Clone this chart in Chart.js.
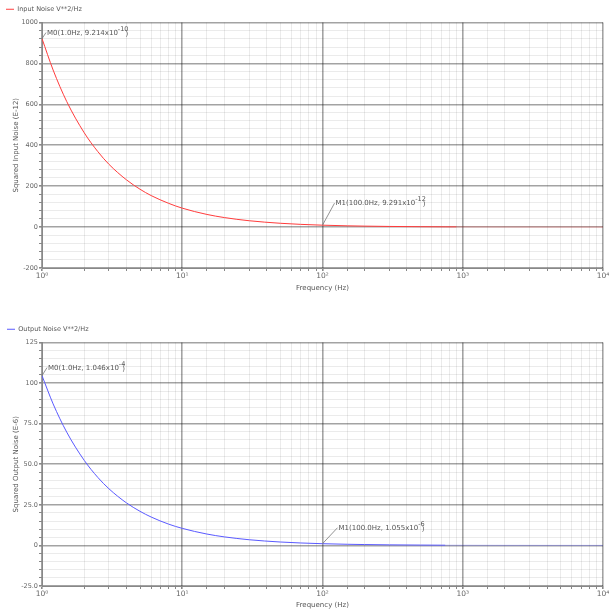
<!DOCTYPE html>
<html lang="en">
<head>
  <meta charset="UTF-8">
  <title>Noise Analysis</title>
  <script src="https://cdn.jsdelivr.net/npm/chart.js"></script>
  <style>
    body { margin: 0; background: #fff; font-family: "DejaVu Sans", sans-serif; }
    .box { position: absolute; left: 0; width: 615px; }
    #boxTop { top: 0; height: 292px; }
    #boxBot { top: 319px; height: 290px; }
  </style>
</head>
<body>
  <div class="box" id="boxTop"><canvas id="chartIn"></canvas></div>
  <div class="box" id="boxBot"><canvas id="chartOut"></canvas></div>

  <script>
    // frequency points (Hz)
    const freqHz = [1, 1.2, 1.5, 2, 2.5, 3, 4, 5, 6, 8, 10, 15, 20, 30, 50, 70, 100,
                    150, 200, 300, 500, 700, 750, 900, 1000, 2000, 5000, 10000];
    // input referred noise, E-12 V^2/Hz
    const inputNoise = [921.4, 768, 614, 461, 369, 307, 231, 185, 154, 116, 92.5, 61.8, 46.4, 31.0, 18.6, 13.3, 9.291,
                        6.2, 4.65, 3.1, 1.86, 1.33, 1.24, 1.03, 0.93, 0.47, 0.19, 0.09];
    // output noise, E-6 V^2/Hz
    const outputNoise = [104.6, 87.2, 69.8, 52.4, 41.9, 34.9, 26.2, 21.0, 17.5, 13.1, 10.5, 7.0, 5.25, 3.5, 2.1, 1.5, 1.055,
                         0.70, 0.53, 0.35, 0.21, 0.15, 0.14, 0.117, 0.105, 0.053, 0.021, 0.011];

    const xTickLabels = { 1: "10⁰", 10: "10¹", 100: "10²", 1000: "10³", 10000: "10⁴" };
    const inYTicks = [-200, 0, 200, 400, 600, 800, 1000];
    const inYLabels = ["-200", "0", "200", "400", "600", "800", "1000"];
    const outYTicks = [-25, 0, 25, 50, 75, 100, 125];
    const outYLabels = ["-25.0", "0", "25.0", "50.0", "75.0", "100", "125"];

    const inMarkers = [
      { freq: 1, value: 921.4, text: "M0(1.0Hz, 9.214x10", exp: "-10", dx: 4, dy: -6 },
      { freq: 100, value: 9.291, text: "M1(100.0Hz, 9.291x10", exp: "-12", dx: 12, dy: -22 }
    ];
    const outMarkers = [
      { freq: 1, value: 104.6, text: "M0(1.0Hz, 1.046x10", exp: "-4", dx: 5, dy: -8 },
      { freq: 100, value: 1.055, text: "M1(100.0Hz, 1.055x10", exp: "-6", dx: 15, dy: -16 }
    ];

    const FONT = "DejaVu Sans";
    const MAJOR = "rgba(0,0,0,0.36)";
    const MINOR = "rgba(0,0,0,0.08)";

    function isDecade(v) {
      const l = Math.log10(v);
      return Math.abs(l - Math.round(l)) < 1e-9;
    }

    // draws the marker labels with leader lines
    const markerPlugin = {
      id: "markers",
      afterDatasetsDraw(chart, args, opts) {
        const ctx = chart.ctx;
        const xs = chart.scales.x, ys = chart.scales.y;
        ctx.save();
        (opts.list || []).forEach(m => {
          const px = xs.getPixelForValue(m.freq);
          const py = ys.getPixelForValue(m.value);
          const lx = px + m.dx, ly = py + m.dy;
          ctx.strokeStyle = "#777";
          ctx.lineWidth = 0.8;
          ctx.beginPath();
          ctx.moveTo(px, py);
          ctx.lineTo(lx, ly);
          ctx.stroke();
          ctx.fillStyle = "#555";
          ctx.textBaseline = "alphabetic";
          ctx.font = "7px '" + FONT + "'";
          const tx = lx + 1, ty = ly + 2;
          ctx.fillText(m.text, tx, ty);
          const w = ctx.measureText(m.text).width;
          ctx.font = "6.5px '" + FONT + "'";
          ctx.fillText(m.exp, tx + w, ty - 4);
          const we = ctx.measureText(m.exp).width;
          ctx.font = "7px '" + FONT + "'";
          ctx.fillText(")", tx + w + we - 3, ty + 1);
        });
        ctx.restore();
      }
    };

    function makeChart(id, label, values, color, paleFrom, yMin, yMax, yStep, yTicks, yLabels, yTitle, markers, plotTop, xAxisH) {
      const ctx = document.getElementById(id).getContext("2d");
      const pale = color.replace("1)", "0.35)");
      return new Chart(ctx, {
        type: "line",
        data: {
          labels: freqHz,
          datasets: [{
            label: label,
            data: freqHz.map((f, i) => ({ x: f, y: values[i] })),
            borderColor: color,
            backgroundColor: color,
            borderWidth: 1,
            pointRadius: 0,
            fill: false,
            cubicInterpolationMode: "monotone",
            segment: {
              borderColor: c => c.p0.parsed.x >= paleFrom ? pale : color
            }
          }]
        },
        options: {
          responsive: true,
          maintainAspectRatio: false,
          animation: false,
          layout: { padding: { left: 0, right: 12, top: 0, bottom: 0 } },
          scales: {
            x: {
              type: "logarithmic",
              min: 1,
              max: 10000,
              afterFit: s => { s.height = xAxisH; },
              ticks: {
                autoSkip: false,
                maxRotation: 0,
                padding: 1,
                color: "#666",
                font: { family: FONT, size: 7.5 },
                callback: v => xTickLabels[v] || ""
              },
              grid: {
                color: c => (c.tick && isDecade(c.tick.value)) ? MAJOR : MINOR,
                lineWidth: c => (c.tick && isDecade(c.tick.value)) ? 1.6 : 1,
                tickColor: "#888",
                tickLength: 3
              },
              border: { color: "#888", width: 1 },
              title: {
                display: true,
                text: "Frequency (Hz)",
                color: "#555",
                font: { family: FONT, size: 7 },
                padding: { top: 0, bottom: 0 }
              }
            },
            y: {
              min: yMin,
              max: yMax,
              afterFit: s => { s.width = 42; },
              ticks: {
                stepSize: yStep,
                autoSkip: false,
                padding: 1,
                color: "#666",
                font: { family: FONT, size: 6.5 },
                callback: v => {
                  const k = yTicks.indexOf(v);
                  return k >= 0 ? yLabels[k] : "";
                }
              },
              grid: {
                color: c => (c.tick && yTicks.indexOf(c.tick.value) >= 0) ? MAJOR : MINOR,
                lineWidth: c => (c.tick && yTicks.indexOf(c.tick.value) >= 0) ? 1.6 : 1,
                tickColor: "#888",
                tickLength: 3
              },
              border: { color: "#888", width: 1 },
              title: {
                display: true,
                text: yTitle,
                color: "#555",
                font: { family: FONT, size: 7 },
                padding: { top: 12, bottom: 0 }
              }
            }
          },
          plugins: {
            legend: {
              display: true,
              position: "top",
              align: "start",
              labels: {
                usePointStyle: true,
                pointStyle: "line",
                boxHeight: 6,
                pointStyleWidth: 8,
                padding: (plotTop - 8) / 2,
                color: "#555",
                font: { family: FONT, size: 6.5 }
              }
            },
            tooltip: { enabled: false },
            markers: { list: markers }
          }
        },
        plugins: [markerPlugin]
      });
    }

    makeChart("chartIn", "Input Noise V**2/Hz", inputNoise, "rgba(255,60,60,1)", 900,
      -200, 1000, 40, inYTicks, inYLabels, "Squared Input Noise (E-12)", inMarkers, 20, 24);
    makeChart("chartOut", "Output Noise V**2/Hz", outputNoise, "rgba(90,90,255,1)", 750,
      -25, 125, 5, outYTicks, outYLabels, "Squared Output Noise (E-6)", outMarkers, 22, 23);
  </script>
</body>
</html>
